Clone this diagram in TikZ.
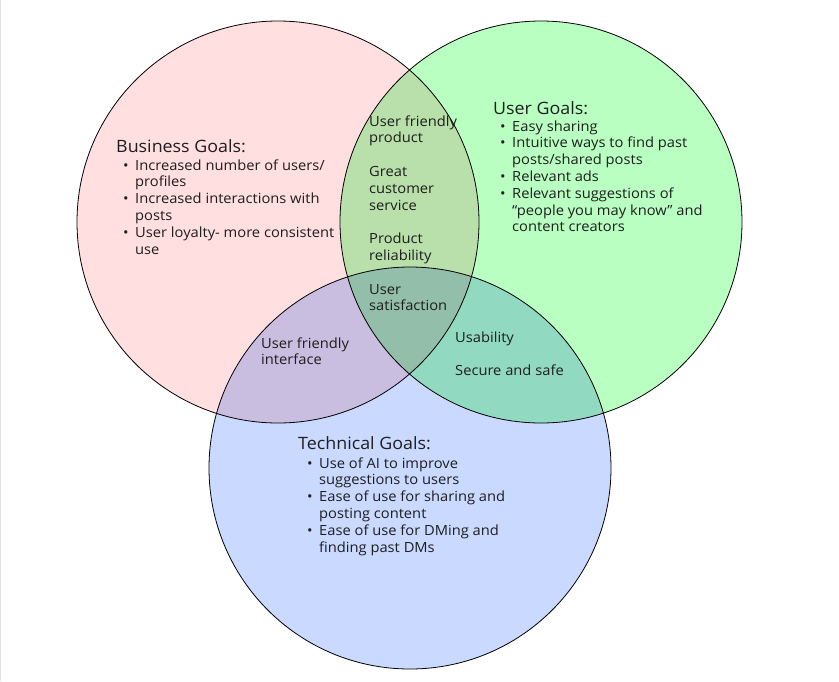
\documentclass[tikz,border=0pt]{standalone}
\usepackage{fontspec}
\setmainfont[FakeStretch=1.05]{Open Sans}
\definecolor{bizfill}{RGB}{255,223,223}
\definecolor{userfill}{RGB}{185,255,194}
\definecolor{techfill}{RGB}{201,217,255}
\definecolor{bizuser}{RGB}{185,223,170}
\definecolor{biztech}{RGB}{201,190,223}
\definecolor{usertech}{RGB}{146,217,194}
\definecolor{allthree}{RGB}{146,190,170}
\definecolor{goalink}{RGB}{30,30,30}
\newcommand{\itm}{\makebox[12pt][l]{\textbullet}}
\tikzset{
  goalhead/.style={anchor=base west,inner sep=0pt,text=goalink,font=\fontsize{17}{20}\selectfont},
  goallist/.style={anchor=base west,inner sep=0pt,text=goalink,font=\fontsize{14}{16.8}\selectfont},
  ring/.style={draw=black,line width=0.8pt}
}

\begin{document}
\begin{tikzpicture}[x=1pt,y=-1pt]
        \useasboundingbox (0,0) rectangle (839,681);
        \draw[black!12] (0.5,0) -- (0.5,681);
        \coordinate (bizc) at (278,222);
        \coordinate (userc) at (541,222);
        \coordinate (techc) at (410,468);

        % fills and overlaps
        \fill[bizfill] (bizc) circle[radius=201pt];
        \fill[userfill] (userc) circle[radius=201pt];
        \fill[techfill] (techc) circle[radius=201pt];
        \begin{scope}
          \clip (bizc) circle[radius=201pt];
          \fill[bizuser] (userc) circle[radius=201pt];
          \fill[biztech] (techc) circle[radius=201pt];
          \clip (userc) circle[radius=201pt];
          \fill[allthree] (techc) circle[radius=201pt];
        \end{scope}
        \begin{scope}[even odd rule]
          \clip (bizc) circle[radius=201pt] (-10,-10) rectangle (850,690);
          \clip (userc) circle[radius=201pt];
          \fill[usertech] (techc) circle[radius=201pt];
        \end{scope}
        \draw[ring] (bizc) circle[radius=201pt];
        \draw[ring] (userc) circle[radius=201pt];
        \draw[ring] (techc) circle[radius=201pt];

        % business
        \node[goalhead] (bizhead) at (116,152) {Business Goals:};
        \node[goallist] (bizlist) at (123,170) {\begin{tabular}[t]{@{}l@{}l@{}}
          \itm & Increased number of users/\\ & profiles\\
          \itm & Increased interactions with\\ & posts\\
          \itm & User loyalty- more consistent\\ & use
        \end{tabular}};

        % user
        \node[goalhead] (userhead) at (493,114) {User Goals:};
        \node[goallist] (userlist) at (500,131) {\begin{tabular}[t]{@{}l@{}l@{}}
          \itm & Easy sharing\\
          \itm & Intuitive ways to find past\\ & posts/shared posts\\
          \itm & Relevant ads\\
          \itm & Relevant suggestions of\\ & “people you may know” and\\ & content creators
        \end{tabular}};

        % technical
        \node[goalhead] (techhead) at (298,449) {Technical Goals:};
        \node[goallist] (techlist) at (307,468) {\begin{tabular}[t]{@{}l@{}l@{}}
          \itm & Use of AI to improve\\ & suggestions to users\\
          \itm & Ease of use for sharing and\\ & posting content\\
          \itm & Ease of use for DMing and\\ & finding past DMs
        \end{tabular}};

        % overlaps
        \node[goallist] (shared) at (369,126) {\begin{tabular}[t]{@{}l@{}}
          User friendly\\ product\\ \\ Great\\ customer\\ service\\ \\
          Product\\ reliability\\ \\ User\\ satisfaction
        \end{tabular}};
        \node[goallist] (iface) at (261,348) {\begin{tabular}[t]{@{}l@{}}
          User friendly\\ interface
        \end{tabular}};
        \node[goallist] (safe) at (455,342) {\begin{tabular}[t]{@{}l@{}}
          Usability\\ \\ Secure and safe
        \end{tabular}};
      \end{tikzpicture}
\end{document}
